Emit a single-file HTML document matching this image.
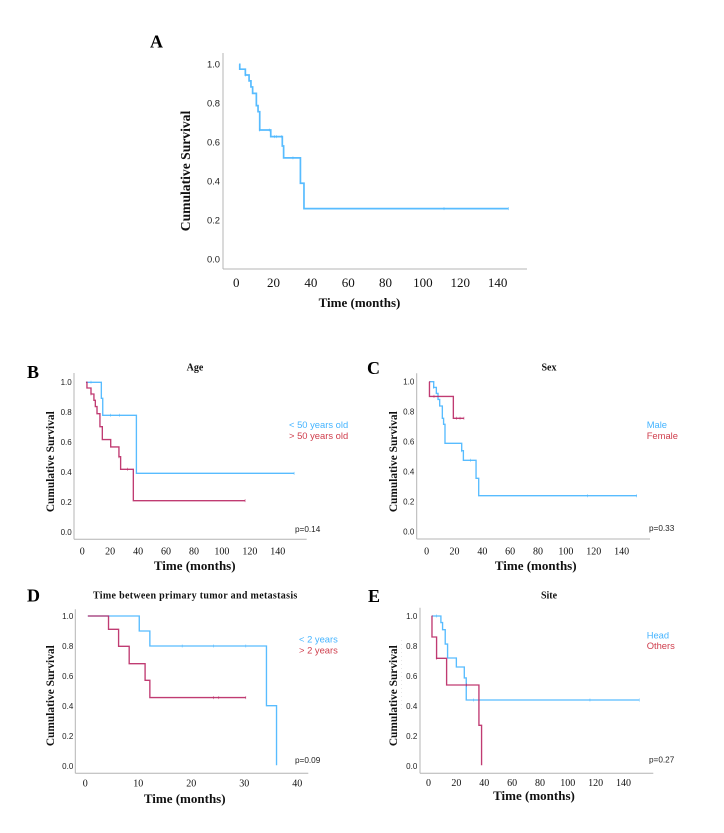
<!DOCTYPE html>
<html lang="en">
<head>
<meta charset="utf-8">
<title>Kaplan-Meier survival curves</title>
<style>
html,body{margin:0;padding:0;background:#fff;width:724px;height:833px;overflow:hidden}
svg{display:block;filter:blur(.25px)}
.letter{font:bold 18px "Liberation Serif",serif;fill:#000}
.title{font:bold 10px "Liberation Serif",serif;fill:#111;text-anchor:middle}
.xtitle{font:bold 13px "Liberation Serif",serif;fill:#111;text-anchor:middle}
.ytitle{font:bold 11.4px "Liberation Serif",serif;fill:#111;text-anchor:middle}
.legend{font:9.4px "Liberation Sans",sans-serif}
.pval{font:8.2px "Liberation Sans",sans-serif;fill:#222}
.ytick{font:8px "Liberation Sans",sans-serif;fill:#222;text-anchor:end}
.xtick{font:10px "Liberation Serif",serif;fill:#111;text-anchor:middle}
</style>
</head>
<body>
<svg id="figure" xmlns="http://www.w3.org/2000/svg" width="724" height="833" viewBox="0 0 724 833">
  <rect width="724" height="833" fill="#fff"/>

  <text class="letter" x="150" y="47.5">A</text>
  <text class="letter" x="27" y="378">B</text>
  <text class="letter" x="367" y="374">C</text>
  <text class="letter" x="27" y="601.5">D</text>
  <text class="letter" x="368" y="602">E</text>

  <text class="xtitle" x="359.5" y="307">Time (months)</text>
  <text class="xtitle" x="194.7" y="570">Time (months)</text>
  <text class="xtitle" x="535.7" y="570">Time (months)</text>
  <text class="xtitle" x="184.7" y="803">Time (months)</text>
  <text class="xtitle" x="534" y="800">Time (months)</text>

  <text class="ytitle" style="font-size:13.6px" transform="translate(190,171) rotate(-90)">Cumulative Survival</text>
  <text class="ytitle" transform="translate(54,461.7) rotate(-90)">Cumulative Survival</text>
  <text class="ytitle" transform="translate(397,461.7) rotate(-90)">Cumulative Survival</text>
  <text class="ytitle" transform="translate(54,695.7) rotate(-90)">Cumulative Survival</text>
  <text class="ytitle" transform="translate(397,695.7) rotate(-90)">Cumulative Survival</text>

  <text class="title" x="195" y="370.5">Age</text>
  <text class="title" x="549" y="370.5">Sex</text>
  <text class="title" style="letter-spacing:.32px" x="195.3" y="598.5">Time between primary tumor and metastasis</text>
  <text class="title" x="549" y="598.5">Site</text>

  <text class="legend" fill="#45b4ff" x="289" y="428">&lt; 50 years old</text>
  <text class="legend" fill="#cf3d4c" x="289" y="438.8">&gt; 50 years old</text>
  <text class="legend" fill="#45b4ff" x="646.7" y="428">Male</text>
  <text class="legend" fill="#cf3d4c" x="646.7" y="438.8">Female</text>
  <text class="legend" fill="#45b4ff" x="299" y="642.7">&lt; 2 years</text>
  <text class="legend" fill="#cf3d4c" x="299" y="653.7">&gt; 2 years</text>
  <text class="legend" fill="#45b4ff" x="646.7" y="638.3">Head</text>
  <text class="legend" fill="#cf3d4c" x="646.7" y="649">Others</text>

  <text class="pval" x="295" y="532">p=0.14</text>
  <text class="pval" x="649" y="531">p=0.33</text>
  <text class="pval" x="295" y="763">p=0.09</text>
  <text class="pval" x="649" y="762.3">p=0.27</text>

  <line x1="401.5" y1="640" x2="401.5" y2="712" stroke="#ccc" stroke-width="1" stroke-dasharray="1 3" opacity=".5"/>
</svg>

<script>
// Shared tick labels
const survivalTicks = ['0.0', '0.2', '0.4', '0.6', '0.8', '1.0'];
const monthTicksA = [0, 20, 40, 60, 80, 100, 120, 140];
const monthTicksWide = [0, 20, 40, 60, 80, 100, 120, 140];
const monthTicksShort = [0, 10, 20, 30, 40];

// Panel A: all patients
const aMonths = [1.5, 1.9, 4.9, 6.9, 7.9, 8.8, 10.8, 11.7, 12.6, 18.5, 24.7, 25.4, 34.4, 36.3, 145.8];
const aSurvival = [1.0, 0.975, 0.945, 0.915, 0.884, 0.851, 0.788, 0.757, 0.663, 0.629, 0.581, 0.52, 0.39, 0.26, 0.26];
const aCensored = [4.9, 12.6, 17.7, 20.6, 21.7, 24.4, 30.4, 111.3, 145.8];

// Panel B: age
const bYoungMonths = [2.7, 13.7, 14.7, 38.8, 151.7];
const bYoungSurvival = [1.0, 0.893, 0.78, 0.393, 0.393];
const bYoungCensored = [6.3, 20.4, 26.6, 151.7];
const bOldMonths = [2.7, 3.4, 6.3, 8.4, 9.4, 10.6, 12.7, 14.4, 20.4, 26.3, 27.5, 36.6, 116.6];
const bOldSurvival = [1.0, 0.962, 0.922, 0.88, 0.838, 0.791, 0.704, 0.618, 0.569, 0.504, 0.42, 0.211, 0.211];
const bOldCensored = [6.3, 26.3, 32.3, 116.6];

// Panel C: sex
const cMaleMonths = [2, 5.1, 7, 8.2, 9.4, 11.3, 12.2, 13.2, 25.2, 26.4, 35.5, 37.4, 150.8];
const cMaleSurvival = [1.0, 0.962, 0.922, 0.882, 0.838, 0.756, 0.716, 0.589, 0.54, 0.476, 0.356, 0.24, 0.24];
const cMaleCensored = [5.1, 25.2, 31.6, 115.4, 150.8];
const cFemaleMonths = [2, 2.05, 19.2, 26.8];
const cFemaleSurvival = [1.0, 0.902, 0.756, 0.756];
const cFemaleCensored = [5.3, 21.6, 24, 26.8];

// Panel D: time between primary tumor and metastasis
const dShortMonths = [0.5, 10.2, 12.2, 34.2, 36.1];
const dShortSurvival = [1.0, 0.9, 0.8, 0.402, 0.005];
const dShortCensored = [18.3, 24.2, 30.3];
const dLongMonths = [0.5, 4.4, 6.3, 8.3, 11.3, 12.2, 30.3];
const dLongSurvival = [1.0, 0.911, 0.798, 0.682, 0.571, 0.456, 0.456];
const dLongCensored = [24.2, 25.2, 30.3];

// Panel E: site
const eHeadMonths = [2.3, 8.9, 10.1, 12, 13.7, 20, 25.7, 27.1, 151.3];
const eHeadSurvival = [1.0, 0.956, 0.909, 0.813, 0.72, 0.66, 0.587, 0.44, 0.44];
const eHeadCensored = [5.6, 32.2, 115.9, 151.3];
const eOthersMonths = [2.3, 2.5, 5.8, 13, 36.2, 38.1];
const eOthersSurvival = [1.0, 0.86, 0.718, 0.54, 0.271, 0.005];
const eOthersCensored = [5.8, 27.2];

const BLUE = '#4ab6ff';
const RED = '#bb2a66';
const NS = 'http://www.w3.org/2000/svg';
const fig = document.getElementById('figure');

function survivalAt(months, survival, t) {
  let s = survival[0];
  for (let i = 0; i < months.length; i++) {
    if (months[i] <= t) s = survival[i];
  }
  return s;
}

function drawSeries(layer, name, months, survival, censored, color, width, xAt, yAt) {
  let d = 'M' + xAt(months[0]).toFixed(2) + ' ' + yAt(survival[0]).toFixed(2);
  for (let i = 1; i < months.length; i++) {
    d += 'H' + xAt(months[i]).toFixed(2) + 'V' + yAt(survival[i]).toFixed(2);
  }
  const path = document.createElementNS(NS, 'path');
  path.setAttribute('d', d);
  path.setAttribute('fill', 'none');
  path.setAttribute('stroke', color);
  path.setAttribute('stroke-width', width);
  path.setAttribute('stroke-opacity', 0.92);
  
  
  layer.appendChild(path);
  censored.forEach(function (t) {
    const y = yAt(survivalAt(months, survival, t));
    const mark = document.createElementNS(NS, 'line');
    mark.setAttribute('x1', xAt(t));
    mark.setAttribute('x2', xAt(t));
    mark.setAttribute('y1', y - 1.5);
    mark.setAttribute('y2', y + 1.5);
    mark.setAttribute('stroke', color);
    mark.setAttribute('stroke-width', 0.6);
    mark.setAttribute('stroke-opacity', 0.8);
    
    
    layer.appendChild(mark);
  });
}

function drawPanel(p) {
  const layer = document.createElementNS(NS, 'g');
  
  
  fig.appendChild(layer);

  const xAt = function (t) { return p.xZero + p.xPerMonth * t; };
  const yAt = function (s) { return p.yZero - p.yPerUnit * s; };

  const yAxis = document.createElementNS(NS, 'line');
  yAxis.setAttribute('x1', p.left);
  yAxis.setAttribute('x2', p.left);
  yAxis.setAttribute('y1', p.top);
  yAxis.setAttribute('y2', p.bottom);
  yAxis.setAttribute('stroke', '#b4b4b4');
  yAxis.setAttribute('stroke-width', 1);
  
  
  layer.appendChild(yAxis);

  const xAxis = document.createElementNS(NS, 'line');
  xAxis.setAttribute('x1', p.left);
  xAxis.setAttribute('x2', p.right);
  xAxis.setAttribute('y1', p.bottom);
  xAxis.setAttribute('y2', p.bottom);
  xAxis.setAttribute('stroke', '#b4b4b4');
  xAxis.setAttribute('stroke-width', 1);
  
  
  layer.appendChild(xAxis);

  survivalTicks.forEach(function (label) {
    const tick = document.createElementNS(NS, 'text');
    tick.setAttribute('class', 'ytick');
    tick.setAttribute('x', p.yLabelRight);
    tick.setAttribute('y', yAt(parseFloat(label)) + p.yLabelSize * 0.36);
    tick.setAttribute('style', 'font-size:' + p.yLabelSize + 'px');
    
    
    tick.textContent = label;
    layer.appendChild(tick);
  });

  p.xTicks.forEach(function (value) {
    const tick = document.createElementNS(NS, 'text');
    tick.setAttribute('class', 'xtick');
    tick.setAttribute('x', xAt(value));
    tick.setAttribute('y', p.xLabelBase);
    tick.setAttribute('style', 'font-size:' + p.xLabelSize + 'px');
    
    
    tick.textContent = value;
    layer.appendChild(tick);
  });

  p.series.forEach(function (s) {
    drawSeries(layer, p.name + '-' + s.name, s.months, s.survival, s.censored, s.color, p.lineWidth, xAt, yAt);
  });
}

drawPanel({
  name: 'panel-a', left: 223, right: 527, top: 53, bottom: 269,
  xZero: 236.2, xPerMonth: 1.867, yZero: 259.3, yPerUnit: 195,
  yLabelRight: 220, yLabelSize: 9.4, xLabelBase: 287, xLabelSize: 13, lineWidth: 1.7,
  xTicks: monthTicksA,
  series: [{ name: 'all-patients', months: aMonths, survival: aSurvival, censored: aCensored, color: BLUE }]
});
drawPanel({
  name: 'panel-b', left: 74, right: 306.7, top: 373, bottom: 539.3,
  xZero: 82.2, xPerMonth: 1.397, yZero: 532.3, yPerUnit: 150,
  yLabelRight: 71.7, yLabelSize: 8, xLabelBase: 554.3, xLabelSize: 10, lineWidth: 1.35,
  xTicks: monthTicksWide,
  series: [
    { name: 'under-50', months: bYoungMonths, survival: bYoungSurvival, censored: bYoungCensored, color: BLUE },
    { name: 'over-50', months: bOldMonths, survival: bOldSurvival, censored: bOldCensored, color: RED }
  ]
});
drawPanel({
  name: 'panel-c', left: 416.7, right: 650, top: 373.3, bottom: 539,
  xZero: 426.6, xPerMonth: 1.393, yZero: 531.7, yPerUnit: 150,
  yLabelRight: 414.3, yLabelSize: 8, xLabelBase: 554.3, xLabelSize: 10, lineWidth: 1.35,
  xTicks: monthTicksWide,
  series: [
    { name: 'male', months: cMaleMonths, survival: cMaleSurvival, censored: cMaleCensored, color: BLUE },
    { name: 'female', months: cFemaleMonths, survival: cFemaleSurvival, censored: cFemaleCensored, color: RED }
  ]
});
drawPanel({
  name: 'panel-d', left: 75.3, right: 308.3, top: 609.3, bottom: 773.3,
  xZero: 85.2, xPerMonth: 5.3, yZero: 766, yPerUnit: 150,
  yLabelRight: 73.3, yLabelSize: 8, xLabelBase: 786.5, xLabelSize: 10, lineWidth: 1.35,
  xTicks: monthTicksShort,
  series: [
    { name: 'under-2-years', months: dShortMonths, survival: dShortSurvival, censored: dShortCensored, color: BLUE },
    { name: 'over-2-years', months: dLongMonths, survival: dLongSurvival, censored: dLongCensored, color: RED }
  ]
});
drawPanel({
  name: 'panel-e', left: 420, right: 653.3, top: 607.7, bottom: 773.3,
  xZero: 428.5, xPerMonth: 1.393, yZero: 766, yPerUnit: 150,
  yLabelRight: 417.3, yLabelSize: 8, xLabelBase: 786, xLabelSize: 10, lineWidth: 1.35,
  xTicks: monthTicksWide,
  series: [
    { name: 'head', months: eHeadMonths, survival: eHeadSurvival, censored: eHeadCensored, color: BLUE },
    { name: 'others', months: eOthersMonths, survival: eOthersSurvival, censored: eOthersCensored, color: RED }
  ]
});
</script>
</body>
</html>
